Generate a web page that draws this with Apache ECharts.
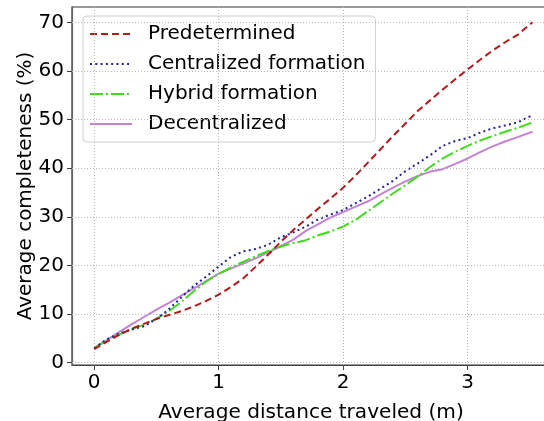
<!DOCTYPE html>
<html><head><meta charset="utf-8">
<script src="https://cdn.jsdelivr.net/npm/echarts@6/dist/echarts.min.js"></script>
<style>html,body{margin:0;padding:0;background:#fff}#c{width:544px;height:421px}</style>
</head><body><div id="c"></div>
<script>
const distance = [0,0.1,0.2,0.3,0.4,0.5,0.6,0.7,0.8,0.9,1.0,1.1,1.2,1.3,1.4,1.5,1.6,1.7,1.8,1.9,2.0,2.1,2.2,2.3,2.4,2.5,2.6,2.7,2.8,2.9,3.0,3.1,3.2,3.3,3.4,3.52];
const predetermined = [2.8,4.3,5.7,7.0,8.0,9.0,9.8,10.6,11.6,12.7,14.0,15.6,17.4,19.8,22.3,24.9,27.3,29.5,31.7,33.8,36.0,38.5,41.2,43.9,46.6,49.2,51.8,54.0,56.2,58.3,60.3,62.3,64.2,65.9,67.4,70.0];
const centralized = [3.0,4.8,6.0,6.8,7.5,9.0,11.0,13.4,15.8,17.7,19.8,21.8,22.9,23.4,24.3,25.8,26.8,28.0,29.5,30.5,31.4,32.8,34.2,35.8,37.4,39.4,41.0,42.7,44.6,45.6,46.2,47.3,48.2,48.8,49.4,50.9];
const hybrid = [3.0,4.6,5.8,6.9,7.8,9.0,10.6,12.5,14.7,16.7,18.3,19.6,20.8,21.9,23.0,23.9,24.6,25.2,26.2,27.0,28.0,29.4,31.2,33.0,34.8,36.5,38.3,40.3,42.0,43.4,44.6,45.7,46.6,47.5,48.3,49.4];
const decentralized = [3.0,4.6,6.3,7.9,9.4,10.9,12.3,13.8,15.3,16.8,18.3,19.4,20.4,21.5,22.7,24.0,25.3,27.1,28.5,29.9,31.0,32.1,33.2,34.6,36.0,37.3,38.4,39.3,39.8,40.9,42.0,43.3,44.5,45.5,46.4,47.5];
const seriesNames = ['Predetermined','Centralized formation','Hybrid formation','Decentralized'];
const xTicks = [0,1,2,3];
const yTicks = [0,10,20,30,40,50,60,70];

const FONT = 'DejaVu Sans';
const pair = arr => arr.map((v,i)=>[distance[i], v]);
const styles = [
  {color:'#b31b1b', type:[7,4]},
  {color:'#23239c', type:[2,3.3]},
  {color:'#3fdc1c', type:[13,3,2,3]},
  {color:'#c383d3', type:'solid'}
];
const dataSets = [predetermined, centralized, hybrid, decentralized];
const gridLineStyle = {color:'#b8b8b8', width:1, type:[1,2]};

const series = dataSets.map((d,i)=>({
  name: seriesNames[i], type:'line', data: pair(d), showSymbol:false, symbol:'none',
  lineStyle:{color:styles[i].color, width:2, type:styles[i].type, cap:'butt'},
  itemStyle:{color:styles[i].color}, z: 5 - i, animation:false
}));
series.push({
  type:'line', data:[], silent:true, animation:false,
  markLine:{silent:true, symbol:['none','none'], label:{show:false}, animation:false,
    lineStyle:gridLineStyle,
    data: xTicks.map(v=>({xAxis:v})).concat(yTicks.map(v=>({yAxis:v})))
  }
});

const chart = echarts.init(document.getElementById('c'), null, {renderer:'canvas'});
chart.setOption({
  animation:false,
  backgroundColor:'#fff',
  grid:{left:72, right:-6, top:7, bottom:56, outerBoundsMode:'none', containLabel:false,
    show:true, borderColor:'#333', borderWidth:1.2, backgroundColor:'transparent'},
  xAxis:{type:'value', min:-0.178, max:3.661,
    name:'Average distance traveled (m)', nameLocation:'middle', nameGap:38, nameMoveOverlap:false,
    nameTextStyle:{fontFamily:FONT, fontSize:20.1, color:'#000'},
    axisLine:{show:true, onZero:false, lineStyle:{color:'#444', width:1.2}},
    axisTick:{show:true, length:5, inside:false, customValues:xTicks, lineStyle:{color:'#444', width:1}},
    axisLabel:{customValues:xTicks, fontFamily:FONT, fontSize:20, color:'#000', margin:8},
    splitLine:{show:false}},
  yAxis:{type:'value', min:-0.47, max:73.15,
    name:'Average completeness (%)', nameLocation:'middle', nameGap:36, nameRotate:90, nameMoveOverlap:false,
    nameTextStyle:{fontFamily:FONT, fontSize:20, color:'#000'},
    axisLine:{show:true, onZero:false, lineStyle:{color:'#666', width:1.2}},
    axisTick:{show:true, length:5, customValues:yTicks, lineStyle:{color:'#444', width:1}},
    axisLabel:{customValues:yTicks, fontFamily:FONT, fontSize:20, color:'#000', margin:8},
    splitLine:{show:false}},
  legend:{
    data: seriesNames, orient:'vertical', left:83, top:16, padding:[8,10,8,6],
    backgroundColor:'rgba(255,255,255,0.85)', borderColor:'#d0d0d0', borderWidth:1, borderRadius:4,
    itemWidth:42, itemHeight:14, itemGap:10,
    itemStyle:{opacity:0},
    textStyle:{fontFamily:FONT, fontSize:20, color:'#000', padding:[0,0,0,11]}
  },
  series
});
</script></body></html>
